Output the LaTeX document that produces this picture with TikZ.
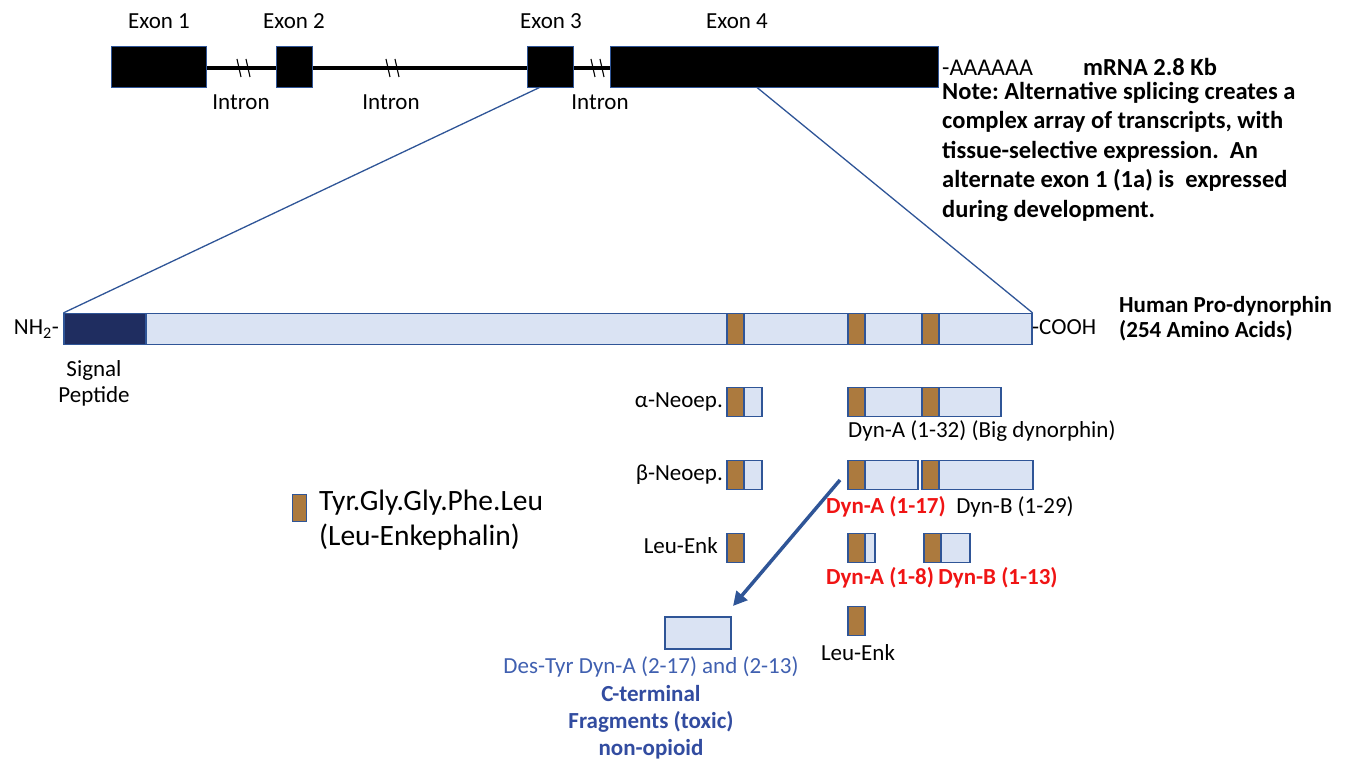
\documentclass[tikz,border=0pt]{standalone}
\usepackage{fontspec}
\setmainfont{Carlito}
\usetikzlibrary{arrows.meta,calc}
\definecolor{barblue}{RGB}{47,85,151}
\definecolor{lightfill}{RGB}{218,227,243}
\definecolor{navy}{RGB}{31,45,96}
\definecolor{enkbrown}{RGB}{172,122,62}
\definecolor{txtblue}{RGB}{64,96,176}
\definecolor{txtbluedk}{RGB}{50,76,160}
\definecolor{redlbl}{RGB}{240,20,20}
\frenchspacing
\begin{document}
\begin{tikzpicture}[x=1pt,y=-1pt,
  lbl/.style={inner sep=0, font=\fontsize{23}{28}\selectfont},
  blbl/.style={inner sep=0, font=\fontsize{23}{28}\selectfont\bfseries},
  nlbl/.style={inner sep=0, font=\fontsize{24.5}{29.5}\selectfont\bfseries},
  rlbl/.style={blbl, text=redlbl},
  pbox/.style={draw=barblue, line width=1.2pt, fill=lightfill, inner sep=0, minimum height=29},
  enk/.style={draw=barblue, line width=1.2pt, fill=enkbrown, inner sep=0, minimum width=17, minimum height=29},
  exon/.style={draw=barblue, line width=0.8pt, fill=black, inner sep=0, minimum height=41},
  intron/.style={line width=4pt, black},
  hatch/.style={line width=1.1pt, black},
  zoomline/.style={barblue, line width=1.3pt},
  bigarrow/.style={barblue, line width=3.5pt, -{Triangle[length=14pt,width=14pt]}}
]
\useasboundingbox (0,0) rectangle (1347,762);

% gene structure
\draw[intron] (205,68) -- (612,68);
\node[exon, minimum width=95] (e1) at (158.5,66.5) {};
\node[exon, minimum width=36] (e2) at (294,66.5) {};
\node[exon, minimum width=46] (e3) at (550,66.5) {};
\node[exon, minimum width=328] (e4) at (774,66.5) {};
\foreach \x in {243,392,597}{
  \draw[hatch] (\x-6,59) -- (\x-2,77);
  \draw[hatch] (\x+3,59) -- (\x+7,77);
}
\node[lbl] (x1) at (159,21) {Exon 1};
\node[lbl] (x2) at (294,21) {Exon 2};
\node[lbl] (x3) at (551,21) {Exon 3};
\node[lbl] (x4) at (737,21) {Exon 4};
\node[lbl] (i1) at (241,102) {Intron};
\node[lbl] (i2) at (391,102) {Intron};
\node[lbl] (i3) at (600,102) {Intron};
\node[lbl, anchor=west, font=\fontsize{24}{28}\selectfont] (polya) at (942,68) {-AAAAAA};
\node[nlbl, anchor=west] (mrna) at (1083,67) {mRNA 2.8 Kb};
\node[nlbl, anchor=north west, align=left] (note) at (942,82)
  {Note: Alternative splicing creates a\\complex array of transcripts, with\\tissue-selective expression.\ \ An\\alternate exon 1 (1a) is\ \ expressed\\during development.};

% pro-dynorphin bar
\node[pbox, minimum width=968, minimum height=31] (bar) at (548,329) {};
\node[draw=barblue, line width=1.2pt, fill=navy, inner sep=0, minimum width=82, minimum height=31, anchor=west] (sig) at (bar.west) {};
\node[enk, minimum height=31] (b1) at (735.5,329) {};
\node[enk, minimum height=31] (b2) at (856.5,329) {};
\node[enk, minimum height=31] (b3) at (930.5,329) {};
\coordinate (z3) at ($(e3.south west)!0.28!(e3.south east)$);
\coordinate (z4) at ($(e4.south west)!0.448!(e4.south east)$);
\draw[zoomline] (z3) -- (bar.north west);
\draw[zoomline] (z4) -- (bar.north east);
\node[lbl, anchor=east] (nh2) at (59,329) {NH\textsubscript{2}-};
\node[lbl, anchor=west] (cooh) at (1032,327) {-COOH};
\node[blbl, anchor=west] (hp1) at (1119,306) {Human Pro-dynorphin};
\node[blbl, anchor=west] (hp2) at (1119,331) {(254 Amino Acids)};
\node[lbl, align=center, font=\fontsize{23}{26}\selectfont] (sigl) at (94,383) {Signal\\Peptide};

% row 1
\node[pbox, minimum width=35] (an) at (744.5,402) {};
\node[enk, anchor=west] (ane) at (an.west) {};
\node[lbl, anchor=east] (anl) at (723,402) {α-Neoep.};
\node[pbox, minimum width=153] (d32) at (924.5,402) {};
\node[enk, anchor=west] (d32e1) at (d32.west) {};
\node[enk] (d32e2) at (930.5,402) {};
\node[lbl, anchor=west] (d32l) at (848,431) {Dyn-A (1-32) (Big dynorphin)};

% row 2
\node[pbox, minimum width=35] (bn) at (744.5,475) {};
\node[enk, anchor=west] (bne) at (bn.west) {};
\node[lbl, anchor=east] (bnl) at (723,475) {β-Neoep.};
\node[pbox, minimum width=70] (d17) at (883,475) {};
\node[enk, anchor=west] (d17e) at (d17.west) {};
\node[pbox, minimum width=111] (d29) at (977.5,475) {};
\node[enk, anchor=west] (d29e) at (d29.west) {};
\node[rlbl] (d17l) at (886,507) {Dyn-A (1-17)};
\node[lbl] (d29l) at (1015,507) {Dyn-B (1-29)};

% row 3
\node[enk] (le1) at (735.5,548) {};
\node[lbl, anchor=east] (le1l) at (718,546) {Leu-Enk};
\node[pbox, minimum width=27] (d8) at (861.5,548) {};
\node[enk, anchor=west] (d8e) at (d8.west) {};
\node[pbox, minimum width=46] (d13) at (947,548) {};
\node[enk, anchor=west] (d13e) at (d13.west) {};
\node[rlbl] (d8l) at (880,578) {Dyn-A (1-8)};
\node[rlbl] (d13l) at (998,578) {Dyn-B (1-13)};

% row 4
\node[enk] (le2) at (856.5,621) {};
\node[lbl] (le2l) at (858,653) {Leu-Enk};

% des-tyr
\node[pbox, minimum width=66, minimum height=32] (ds) at (698,633) {};
\node[lbl, text=txtblue] (dsl) at (651,667) {Des-Tyr Dyn-A (2-17) and (2-13)};
\node[blbl, text=txtbluedk] (ct1) at (651,694) {C-terminal};
\node[blbl, text=txtbluedk] (ct2) at (651,722) {Fragments (toxic)};
\node[blbl, text=txtbluedk] (ct3) at (651,749) {non-opioid};
\coordinate (as) at (840,480);
\coordinate (ae) at (733,606);
\draw[bigarrow] (as) -- (ae);

% legend
\node[enk, minimum width=14, minimum height=27, line width=1pt] (leg) at (299,507.5) {};
\node[inner sep=0, anchor=west, align=left, font=\fontsize{29.5}{35}\selectfont] (legl) at (319,520) {Tyr.Gly.Gly.Phe.Leu\\(Leu-Enkephalin)};
\end{tikzpicture}
\end{document}
